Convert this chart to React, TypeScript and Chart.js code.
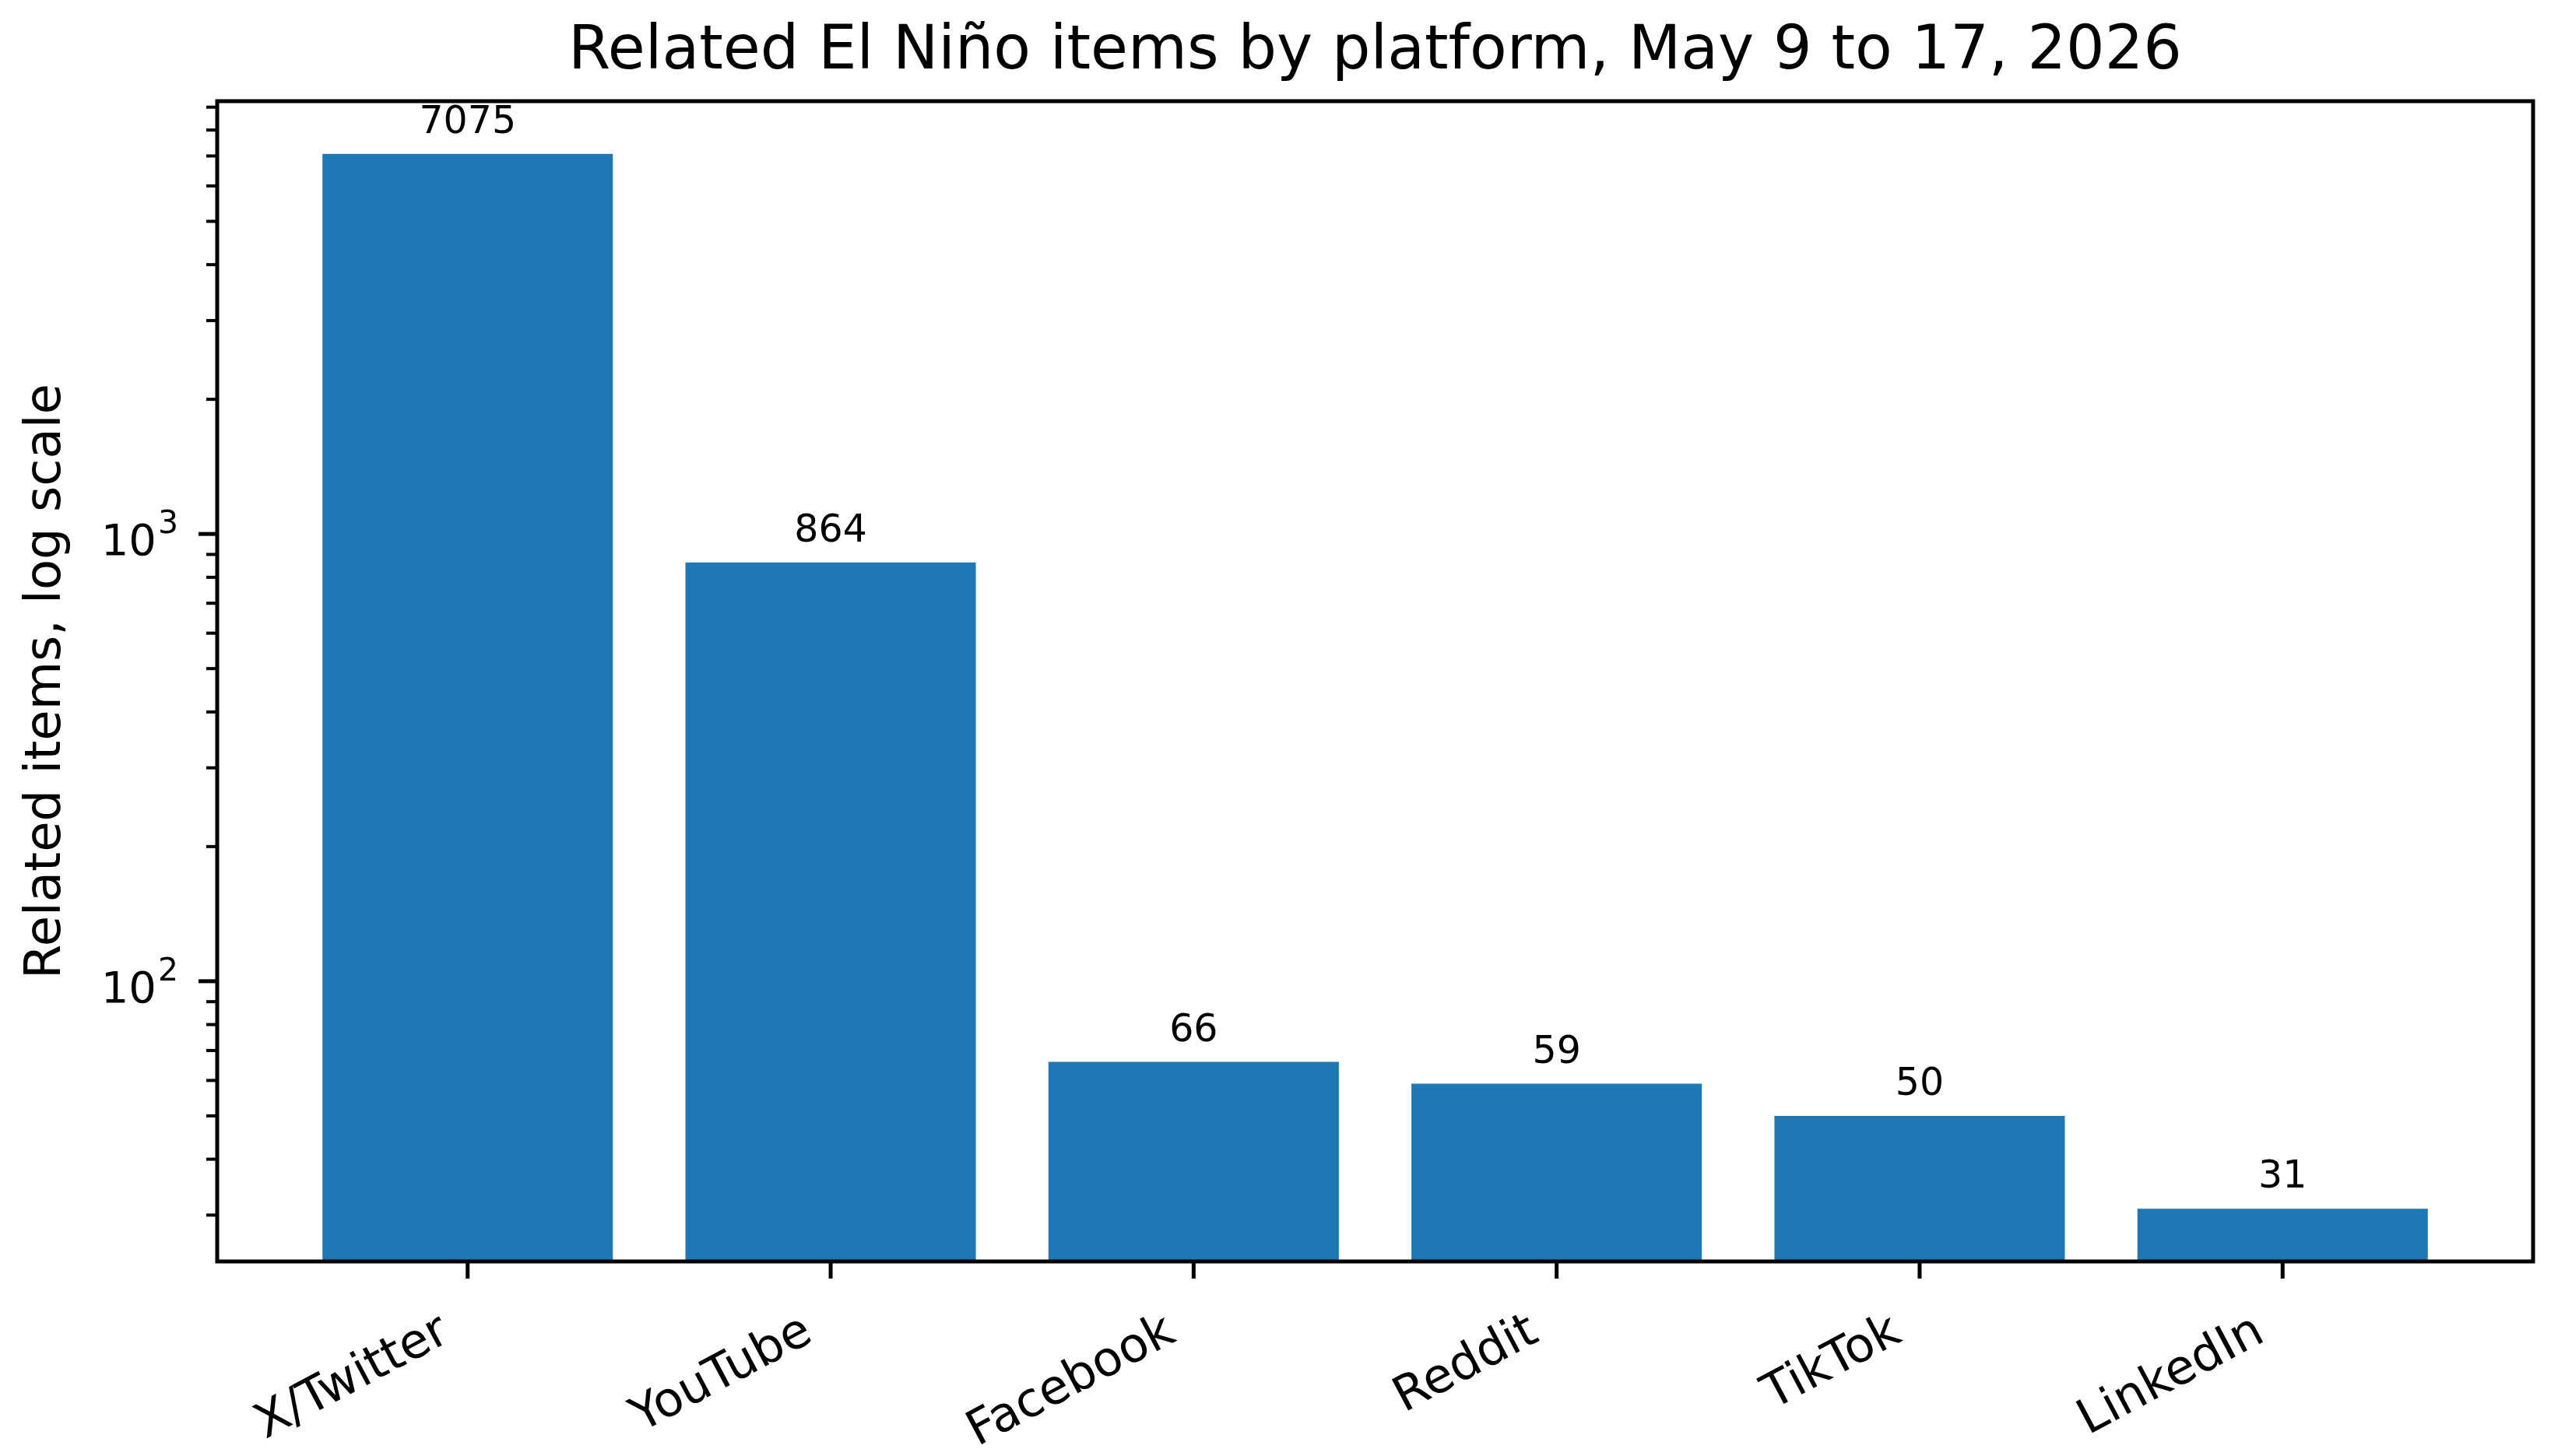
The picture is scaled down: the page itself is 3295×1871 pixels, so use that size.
import React, { useEffect, useRef } from 'react';
import { Chart, registerables } from 'chart.js';

Chart.register(...registerables);

// datos
const platforms = ['X/Twitter', 'YouTube', 'Facebook', 'Reddit', 'TikTok', 'LinkedIn'];
const relatedItems = [7075, 864, 66, 59, 50, 31];
const majorTicks = [100, 1000];
const majorExponents = ['2', '3'];
const minorTicks = [30, 40, 50, 60, 70, 80, 90, 200, 300, 400, 500, 600, 700, 800, 900, 2000, 3000, 4000, 5000, 6000, 7000, 8000, 9000];

const chartTitle = 'Related El Niño items by platform, May 9 to 17, 2026';
const yTitle = 'Related items, log scale';

const FONT = "'DejaVu Sans', 'Liberation Sans', sans-serif";
const BAR_COLOR = '#1f77b4';

// márgenes como matplotlib (5% en espacio log / lineal)
const logLo = Math.log10(Math.min(...relatedItems));
const logHi = Math.log10(Math.max(...relatedItems));
const logPad = 0.05 * (logHi - logLo);
const yMin = Math.pow(10, logLo - logPad);
const yMax = Math.pow(10, logHi + logPad);
const xPad = 0.05 * (platforms.length - 1 + 0.8);
const xMin = -0.4 - xPad;
const xMax = platforms.length - 1 + 0.4 + xPad;

const axisDecor = {
  id: 'axisDecor',
  afterDatasetsDraw(chart: any) {
    const { ctx, chartArea, scales } = chart;
    const { left, top, right, bottom } = chartArea;
    ctx.save();
    ctx.strokeStyle = '#000';

    // marcas del eje y (mayores y menores)
    scales.y.ticks.forEach((t: any) => {
      const py = scales.y.getPixelForValue(t.value);
      const isMajor = majorTicks.includes(t.value);
      ctx.lineWidth = isMajor ? 5 : 4;
      ctx.beginPath();
      ctx.moveTo(left - (isMajor ? 24 : 14), py);
      ctx.lineTo(left, py);
      ctx.stroke();
    });

    // etiquetas 10^n con exponente
    ctx.fillStyle = '#000';
    ctx.textBaseline = 'alphabetic';
    ctx.textAlign = 'right';
    majorTicks.forEach((v, k) => {
      const py = scales.y.getPixelForValue(v);
      const xr = left - 50;
      ctx.font = `41px ${FONT}`;
      const expW = ctx.measureText(majorExponents[k]).width;
      ctx.fillText(majorExponents[k], xr, py - 1);
      ctx.font = `56px ${FONT}`;
      ctx.fillText('10', xr - expW - 2, py + 27);
    });

    // marcas del eje x
    ctx.lineWidth = 5;
    scales.x.ticks.forEach((t: any) => {
      const px = scales.x.getPixelForValue(t.value);
      ctx.beginPath();
      ctx.moveTo(px, bottom);
      ctx.lineTo(px, bottom + 22);
      ctx.stroke();
    });

    // marco
    ctx.lineWidth = 5;
    ctx.strokeRect(left, top, right - left, bottom - top);

    // etiquetas de valor
    const meta = chart.getDatasetMeta(0);
    ctx.font = `49px ${FONT}`;
    ctx.textAlign = 'center';
    ctx.textBaseline = 'alphabetic';
    meta.data.forEach((bar: any, i: number) => {
      ctx.fillText(String(relatedItems[i]), bar.x, bar.y - 27);
    });
    ctx.restore();
  },
};

const App: React.FC = () => {
  const canvasRef = useRef<HTMLCanvasElement>(null);
  const chartInstance = useRef<Chart | null>(null);

  useEffect(() => {
    document.body.style.margin = '0';
    if (!canvasRef.current) return;
    const ctx = canvasRef.current.getContext('2d');
    if (!ctx) return;

    chartInstance.current = new Chart(ctx, {
      type: 'bar',
      data: {
        datasets: [{
          label: 'Related items',
          data: relatedItems.map((v, i) => ({ x: i, y: v })),
          backgroundColor: BAR_COLOR,
          borderWidth: 0,
          barPercentage: 0.8,
          categoryPercentage: 1.0,
        }]
      },
      options: {
        responsive: false,
        maintainAspectRatio: false,
        devicePixelRatio: 1,
        animation: false,
        layout: {
          padding: { left: 0, right: 41, top: 0, bottom: 0 }
        },
        plugins: {
          legend: { display: false },
          tooltip: { enabled: false },
          title: {
            display: true,
            fullSize: false,
            text: chartTitle,
            color: '#000',
            font: { family: FONT, size: 78, weight: 'normal', lineHeight: 1.2 },
            padding: { top: 21, bottom: 15.4 },
          },
        },
        scales: {
          x: {
            type: 'linear',
            offset: false,
            min: xMin,
            max: xMax,
            grid: { display: false, drawTicks: false },
            border: { display: false },
            afterBuildTicks: (scale: any) => {
              scale.ticks = platforms.map((_, i) => ({ value: i }));
            },
            afterFit: (scale: any) => {
              scale.height = 250;
            },
            ticks: {
              autoSkip: false,
              minRotation: 28,
              maxRotation: 28,
              padding: 54,
              labelOffset: -28,
              color: '#000',
              font: { family: FONT, size: 62 },
              callback: (value: any) => platforms[value] ?? '',
            },
          },
          y: {
            type: 'logarithmic',
            min: yMin,
            max: yMax,
            grid: { display: false, drawTicks: false },
            border: { display: false },
            afterBuildTicks: (scale: any) => {
              scale.ticks = [...minorTicks, ...majorTicks]
                .sort((a, b) => a - b)
                .map(v => ({ value: v }));
            },
            afterFit: (scale: any) => {
              scale.width = 279;
            },
            ticks: {
              autoSkip: false,
              padding: 50,
              color: '#000',
              font: { family: FONT, size: 58 },
              // las etiquetas 10^n se dibujan en el plugin
              callback: () => '',
            },
            title: {
              display: true,
              text: yTitle,
              color: '#000',
              font: { family: FONT, size: 64, lineHeight: 1.2 },
              padding: { top: 22, bottom: 0 },
            },
          },
        },
      },
      plugins: [axisDecor],
    });

    return () => {
      if (chartInstance.current) {
        chartInstance.current.destroy();
        chartInstance.current = null;
      }
    };
  }, []);

  return (
    <div style={{ position: 'absolute', left: 0, top: 0, width: 3295, height: 1871, background: '#fff' }}>
      <canvas ref={canvasRef} width={3295} height={1871} style={{ width: 3295, height: 1871 }}></canvas>
    </div>
  );
};

export default App;
